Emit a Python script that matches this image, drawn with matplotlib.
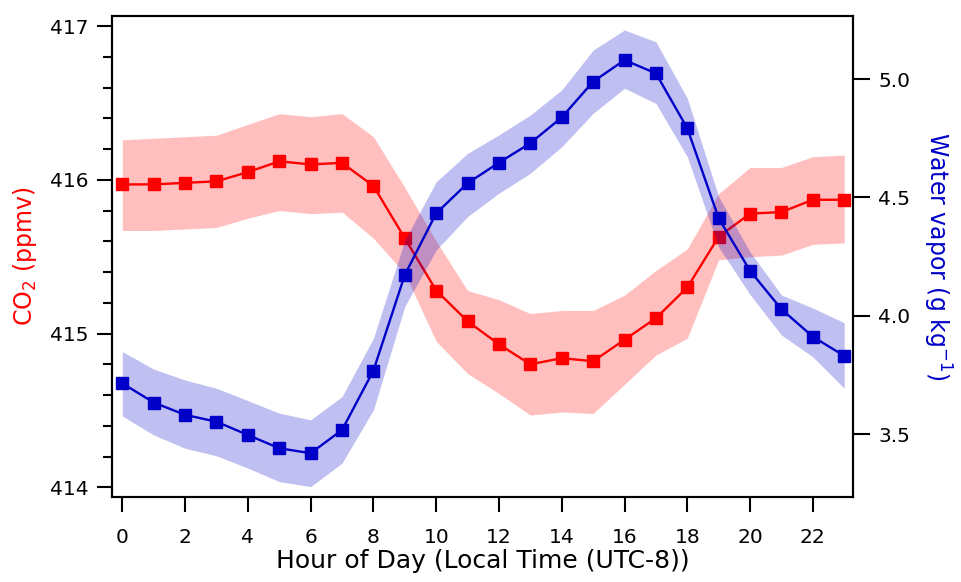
import numpy as np
import matplotlib
matplotlib.use("Agg")
import matplotlib.pyplot as plt
from matplotlib.ticker import MultipleLocator, FormatStrFormatter

plt.rcParams["font.family"] = ["DejaVu Sans"]
plt.rcParams["mathtext.fontset"] = "custom"
plt.rcParams["mathtext.rm"] = "DejaVu Sans"
plt.rcParams["mathtext.it"] = "DejaVu Sans:italic"
plt.rcParams["mathtext.default"] = "regular"

# hour of day
hours = np.arange(24)

# CO2 (ppmv): mean and band edges
co2_mean = [415.97, 415.97, 415.98, 415.99, 416.05, 416.12, 416.10, 416.11,
            415.96, 415.62, 415.28, 415.08, 414.93, 414.80, 414.84, 414.82,
            414.96, 415.10, 415.30, 415.63, 415.78, 415.79, 415.87, 415.87]
co2_upper = [416.26, 416.27, 416.28, 416.29, 416.36, 416.43, 416.41, 416.43,
             416.28, 415.95, 415.60, 415.28, 415.22, 415.13, 415.15, 415.15,
             415.25, 415.41, 415.55, 415.91, 416.08, 416.08, 416.15, 416.16]
co2_lower = [415.67, 415.67, 415.68, 415.69, 415.75, 415.80, 415.78, 415.79,
             415.62, 415.39, 414.95, 414.74, 414.61, 414.47, 414.49, 414.48,
             414.67, 414.86, 414.97, 415.48, 415.50, 415.51, 415.58, 415.59]

# water vapor (g/kg): mean and band edges
wv_mean = [3.715, 3.634, 3.582, 3.553, 3.497, 3.441, 3.420, 3.518,
           3.769, 4.173, 4.433, 4.560, 4.647, 4.729, 4.838, 4.989,
           5.080, 5.024, 4.792, 4.412, 4.190, 4.028, 3.912, 3.831]
wv_upper = [3.849, 3.775, 3.729, 3.694, 3.642, 3.589, 3.561, 3.659,
            3.905, 4.320, 4.566, 4.686, 4.764, 4.848, 4.954, 5.122,
            5.207, 5.157, 4.919, 4.503, 4.270, 4.088, 4.033, 3.971]
wv_lower = [3.577, 3.497, 3.441, 3.409, 3.357, 3.300, 3.279, 3.378,
            3.603, 4.040, 4.278, 4.419, 4.518, 4.602, 4.714, 4.855,
            4.961, 4.897, 4.672, 4.290, 4.090, 3.919, 3.827, 3.694]

red = "#ff0000"
blue = "#0000c8"

fig = plt.figure(figsize=(9.62, 5.82), dpi=100)
ax = fig.add_axes([0.1164, 0.146, 0.7703, 0.8265])

ax.fill_between(hours, co2_lower, co2_upper, color=red, alpha=0.25, lw=0)
ax.plot(hours, co2_mean, color=red, lw=1.7, marker="s", ms=9)

ax.set_xlim(-0.33, 23.28)
ax.set_ylim(413.937, 417.065)
ax.xaxis.set_major_locator(MultipleLocator(2))
ax.yaxis.set_major_locator(MultipleLocator(1))
ax.yaxis.set_minor_locator(MultipleLocator(0.2))
ax.tick_params(axis="both", which="major", direction="out", length=11, width=1.5,
               labelsize=14.5)
ax.tick_params(axis="y", which="major", pad=6)
ax.tick_params(axis="x", which="major", pad=11)
ax.tick_params(axis="y", which="minor", direction="out", length=6.5, width=1.5)
ax.set_xlabel("Hour of Day (Local Time (UTC-8))", fontsize=18, labelpad=2)
ax.set_ylabel("CO$_2$ (ppmv)", fontsize=17, color=red, labelpad=8)

ax2 = ax.twinx()
ax2.fill_between(hours, wv_lower, wv_upper, color=blue, alpha=0.25, lw=0)
ax2.plot(hours, wv_mean, color=blue, lw=1.7, marker="s", ms=9)
ax2.set_ylim(3.235, 5.266)
ax2.yaxis.set_major_locator(MultipleLocator(0.5))
ax2.yaxis.set_major_formatter(FormatStrFormatter("%.1f"))
ax2.tick_params(axis="y", direction="out", length=12, width=1.5, labelsize=14.5, pad=6)
ax2.set_ylabel("Water vapor (g kg$^{-1}$)", fontsize=17, color=blue,
               rotation=270, labelpad=31)

for a in (ax, ax2):
    for s in a.spines.values():
        s.set_linewidth(1.5)

fig.savefig("out.png", dpi=100)
